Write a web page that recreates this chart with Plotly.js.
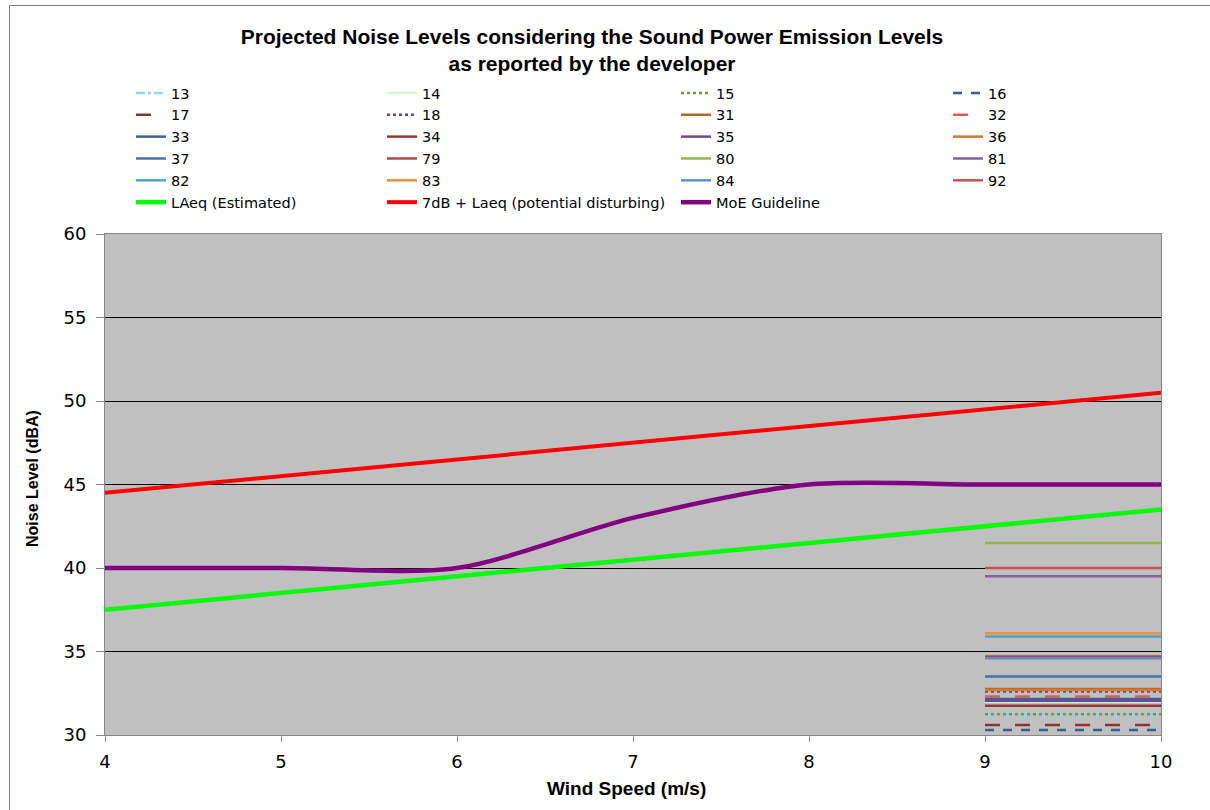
<!DOCTYPE html>
<html>
<head>
<meta charset="utf-8">
<script src="https://cdn.plot.ly/plotly-3.0.1.min.js"></script>
<style>
html,body{margin:0;padding:0;background:#fff;}
#frame{position:absolute;left:9px;top:5px;width:1300px;height:900px;border-left:1px solid #7f7f7f;border-top:1px solid #7f7f7f;}
#chart{position:absolute;left:0;top:0;width:1210px;height:810px;}
</style>
</head>
<body>
<div id="frame"></div>
<div id="chart"></div>
<script>
// ---- data ----
const windSpeed = [4, 5, 6, 7, 8, 9, 10];
const laeqEstimated = [37.5, 38.5, 39.5, 40.5, 41.5, 42.5, 43.5];
const laeqPlus7 = [44.5, 45.5, 46.5, 47.5, 48.5, 49.5, 50.5];
const moeGuideline = [40, 40, 40, 43, 45, 45, 45];

const stationX = [9, 10];
const stationNames = ["13","14","15","16","17","18","31","32","33","34","35","36","37","79","80","81","82","83","84","92"];
const stationLevels = [31.15, 32.0, 31.25, 30.3, 30.6, 32.6, 32.75, 32.3, 32.15, 31.75, 32.05, 32.7, 33.5, 34.7, 41.5, 39.5, 35.9, 36.1, 34.6, 40.0];

// ---- styles ----
const stationColors = {
  "13":"#8fd8f3","14":"#d8f5d8","15":"#77933c","16":"#376092","17":"#8b3330",
  "18":"#5f497a","31":"#b8651f","32":"#e05b58","33":"#3c6199","34":"#953735",
  "35":"#66508a","36":"#d6782d","37":"#4a70ad","79":"#b04744","80":"#94b356",
  "81":"#7f63a2","82":"#4aa6c2","83":"#ef8d3e","84":"#5b8fd3","92":"#c6514e"
};
const stationDash = {"13":"dashdot","15":"dot","16":"dash","17":"longdash","18":"dot","32":"longdash"};
const legendCol = ["legend","legend2","legend3","legend4"];

const traces = [];
stationNames.forEach((name, i) => {
  traces.push({
    x: stationX,
    y: stationX.map(() => stationLevels[i]),
    type: "scatter", mode: "lines", name: name,
    line: {color: stationColors[name], width: 2.5, dash: stationDash[name] || "solid"},
    legend: legendCol[i % 4], legendrank: i
  });
});
traces.push({x: windSpeed, y: laeqEstimated, type:"scatter", mode:"lines", name:"LAeq (Estimated)",
  line:{color:"#00ff00", width:4.5}, legend:"legend", legendrank:20});
traces.push({x: windSpeed, y: laeqPlus7, type:"scatter", mode:"lines", name:"7dB + Laeq (potential disturbing)",
  line:{color:"#ff0000", width:4}, legend:"legend2", legendrank:21});
traces.push({x: windSpeed, y: moeGuideline, type:"scatter", mode:"lines", name:"MoE Guideline",
  line:{color:"#800080", width:4.5, shape:"spline", smoothing:0.8}, legend:"legend3", legendrank:22});

const font = "Liberation Sans, Arial, sans-serif";
const wide = "DejaVu Sans, sans-serif";
function leg(xpx){
  return {xref:"container", yref:"container", x: xpx/1210, y: 1 - 77/810, xanchor:"left", yanchor:"top",
    orientation:"v", bgcolor:"rgba(0,0,0,0)", font:{family:wide, size:14.5, color:"#000"},
    tracegroupgap:0, itemwidth:30, traceorder:"normal"};
}

const layout = {
  width: 1210, height: 810,
  margin: {l:105, r:49, t:234, b:75, autoexpand:false},
  paper_bgcolor: "rgba(0,0,0,0)",
  plot_bgcolor: "#c0c0c0",
  font: {family: font, color:"#000"},
  title: {text: "<b>Projected Noise Levels considering the Sound Power Emission Levels<br>as reported by the developer</b>",
    xref:"container", x: 592/1210, xanchor:"center", yref:"container", y: 1 - 44/810, yanchor:"top",
    font:{family:font, size:21, color:"#000"}},
  xaxis: {range:[4,10], dtick:1, tick0:4, showgrid:false, zeroline:false,
    showline:true, linecolor:"#868686", linewidth:1, mirror:true,
    ticks:"outside", ticklen:6, tickcolor:"#868686", ticklabelstandoff:4,
    tickfont:{family:wide, size:18}},
  yaxis: {range:[30,60], dtick:5, showgrid:true, gridcolor:"#000", gridwidth:1, zeroline:false,
    showline:true, linecolor:"#868686", linewidth:1, mirror:true,
    ticks:"outside", ticklen:8, tickcolor:"#868686", ticklabelstandoff:6,
    tickfont:{family:wide, size:18}},
  annotations: [
    {text:"<b>Noise Level (dBA)</b>", xref:"paper", yref:"paper",
      x: (32 - 105) / 1056, y: (735 - 479) / 501, xanchor:"center", yanchor:"middle", textangle:-90, showarrow:false,
      font:{family:font, size:16, color:"#000"}},
    {text:"<b>Wind Speed (m/s)</b>", xref:"paper", yref:"paper",
      x: (626 - 105) / 1056, y: -(788 - 735) / 501, xanchor:"center", yanchor:"middle", showarrow:false,
      font:{family:font, size:19, color:"#000"}}
  ],
  showlegend: true,
  legend: leg(131),
  legend2: leg(382),
  legend3: leg(676),
  legend4: leg(948)
};

Plotly.newPlot("chart", traces, layout, {displayModeBar:false, staticPlot:true});
</script>
</body>
</html>
